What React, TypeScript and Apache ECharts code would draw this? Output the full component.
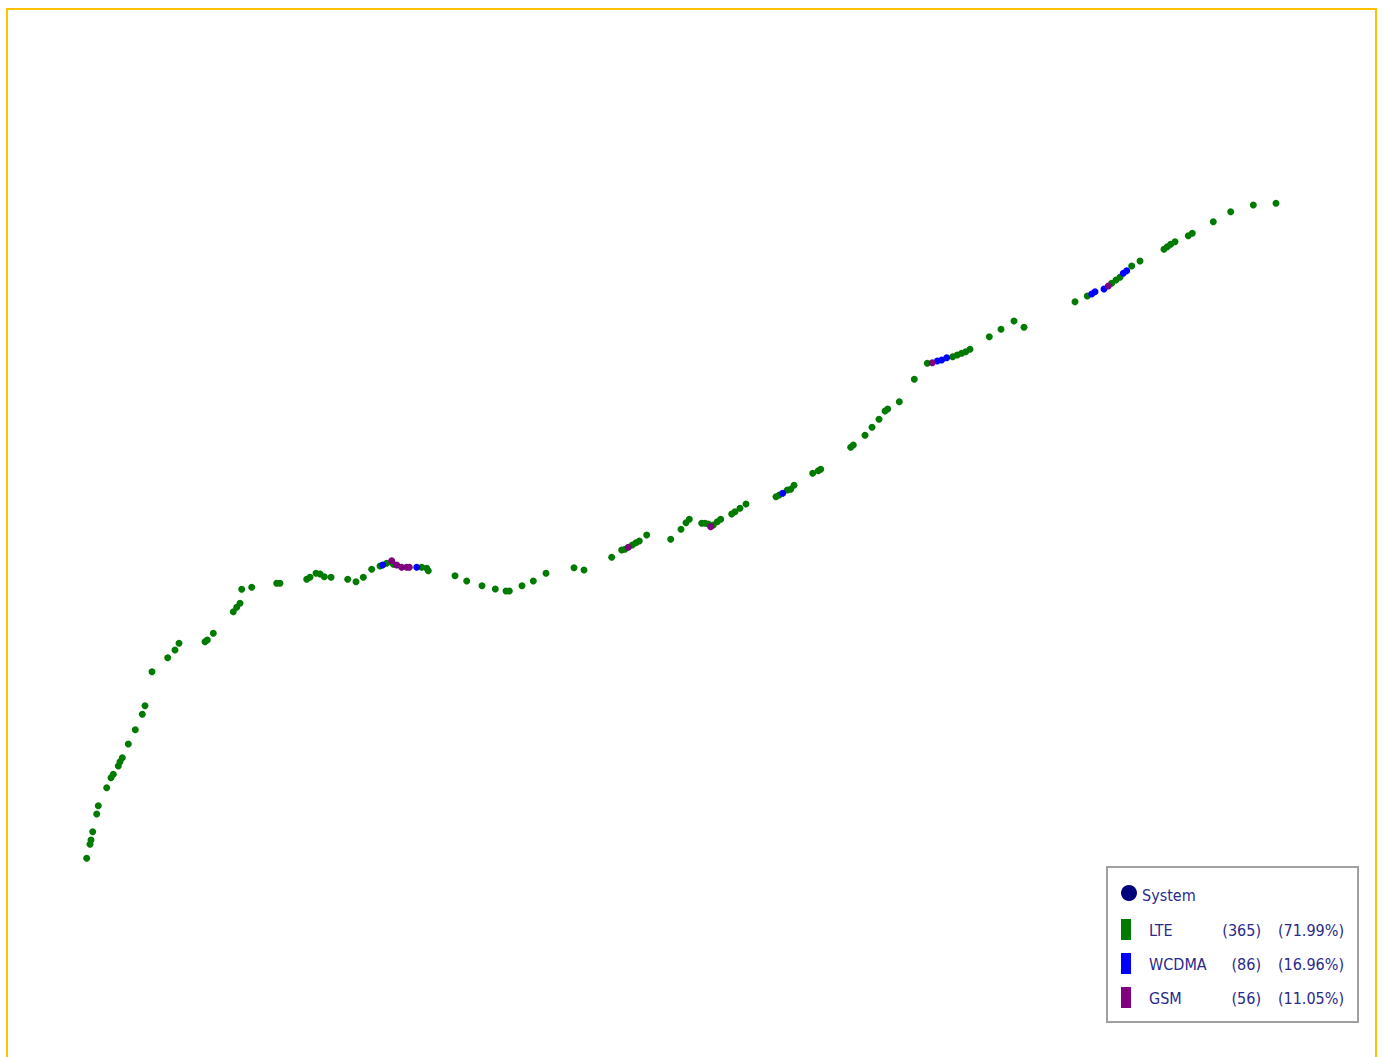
import React, { useEffect, useRef } from "react";
import * as echarts from "echarts";

// Drive-test track: screen-plane coordinates and serving system per sample
const trackX = [
  86.7, 90, 91, 92.7, 96.7, 98.3, 106.7, 111, 113.3, 118.3, 120, 122.3, 128.3, 135.3, 142.3, 145,
  152, 167.7, 175, 179, 205, 207.3, 213.3, 233.3, 236.7, 240, 241.7, 251.7, 276.7, 280, 306.7, 310,
  316, 320, 324.3, 331, 347.7, 356, 363.3, 371.7, 380, 382.7, 386.7, 391.7, 393.3, 396.7, 401.7, 406.7,
  409.3, 416.7, 421.7, 426.7, 428.3, 455, 466.7, 482, 495.3, 506, 509.3, 522, 533.3, 546, 574, 584,
  611.7, 621.7, 625, 628.3, 632.3, 636, 639.3, 646.7, 670.7, 681, 686, 689.3, 701.7, 705, 708.3, 710.7,
  713.3, 717.3, 720.7, 731.7, 735, 740, 746, 776, 779.3, 782.7, 787.3, 790.7, 794, 812.7, 818.3, 820.7,
  850.7, 853.3, 865, 872, 879, 885, 887.7, 899.3, 914.3, 927.3, 932.3, 937.3, 941.7, 946.7, 952.7, 957.3,
  961.7, 965.7, 970, 989.3, 1001, 1014, 1024, 1075, 1087.3, 1091.7, 1095, 1104, 1108.3, 1111.7, 1116, 1120,
  1123.3, 1126.7, 1131.7, 1140, 1164, 1167.3, 1170.7, 1175, 1188.3, 1192.3, 1213.3, 1230.7, 1253.3, 1276,
];
const trackY = [
  858.3, 844.3, 840, 831.7, 814, 805.7, 787.7, 777.7, 774.3, 766, 761.7, 757.7, 744, 729.7, 714.3, 705.7,
  671.7, 657.7, 650, 643.3, 641.7, 640, 633.3, 611.7, 607.3, 603.3, 589.3, 587.3, 583.3, 583.3, 579.3, 577.3,
  573.3, 574, 576.7, 577.3, 579.3, 581.7, 577.3, 569.3, 566, 565, 563.3, 560.7, 564.3, 565, 567.3, 567.3,
  567.3, 567.3, 567.3, 568.3, 570.7, 575.7, 581, 585.7, 589, 591, 591, 585.7, 581, 573.3, 567.7, 570,
  557.3, 550, 549.3, 547.3, 545, 542.7, 541, 535, 539.3, 529.3, 522.7, 519.3, 523.3, 523.3, 524, 526.7,
  525, 521.7, 519.3, 514, 511.7, 508.3, 504, 496.7, 495, 493.3, 490, 489.3, 485.3, 473.3, 470.7, 469.3,
  447.3, 445, 435.3, 427.3, 419.3, 411, 409, 401.7, 379.3, 363.3, 362.7, 361, 360, 357.7, 356.7, 355,
  353.3, 351.7, 349.3, 336.7, 329.3, 321, 327.3, 301.7, 296, 294, 291.7, 289, 286, 283.3, 280, 277.3,
  273.3, 270.7, 266, 261, 249.3, 246.7, 244.3, 241.7, 235.7, 233.3, 221.7, 211.7, 205, 203.3,
];
const trackSystem = [
  "LTE", "LTE", "LTE", "LTE", "LTE", "LTE", "LTE", "LTE", "LTE", "LTE", "LTE", "LTE", "LTE", "LTE", "LTE", "LTE",
  "LTE", "LTE", "LTE", "LTE", "LTE", "LTE", "LTE", "LTE", "LTE", "LTE", "LTE", "LTE", "LTE", "LTE", "LTE", "LTE",
  "LTE", "LTE", "LTE", "LTE", "LTE", "LTE", "LTE", "LTE", "LTE", "WCDMA", "LTE", "GSM", "LTE", "GSM", "GSM", "GSM",
  "GSM", "WCDMA", "LTE", "LTE", "LTE", "LTE", "LTE", "LTE", "LTE", "LTE", "LTE", "LTE", "LTE", "LTE", "LTE", "LTE",
  "LTE", "LTE", "LTE", "GSM", "LTE", "LTE", "LTE", "LTE", "LTE", "LTE", "LTE", "LTE", "LTE", "LTE", "LTE", "GSM",
  "LTE", "LTE", "LTE", "LTE", "LTE", "LTE", "LTE", "LTE", "LTE", "WCDMA", "LTE", "LTE", "LTE", "LTE", "LTE", "LTE",
  "LTE", "LTE", "LTE", "LTE", "LTE", "LTE", "LTE", "LTE", "LTE", "LTE", "GSM", "WCDMA", "WCDMA", "WCDMA", "LTE", "LTE",
  "LTE", "LTE", "LTE", "LTE", "LTE", "LTE", "LTE", "LTE", "LTE", "WCDMA", "WCDMA", "WCDMA", "GSM", "LTE", "LTE", "LTE",
  "WCDMA", "WCDMA", "LTE", "LTE", "LTE", "LTE", "LTE", "LTE", "LTE", "LTE", "LTE", "LTE", "LTE", "LTE",
];

// Legend content
const legendTitle = "System";
const systems = ["LTE", "WCDMA", "GSM"];
const systemCounts = ["(365)", "(86)", "(56)"];
const systemPercents = ["(71.99%)", "(16.96%)", "(11.05%)"];
const systemColors = ["#007a00", "#0000ff", "#800080"];

const FONT = "'DejaVu Sans Condensed', 'Liberation Sans Narrow', 'DejaVu Sans', sans-serif";
const TEXT_COLOR = "#2a2a8a";

export default function App() {
  const ref = useRef<HTMLDivElement>(null);
  useEffect(() => {
    if (!ref.current) return;
    const chart = echarts.init(ref.current, undefined, { renderer: "svg" });

    const series = systems.map((name, si) => ({
      name,
      type: "scatter",
      symbol: "circle",
      symbolSize: 7,
      itemStyle: { color: systemColors[si], opacity: 1 },
      data: trackX
        .map((x, i) => [x, trackY[i], trackSystem[i]])
        .filter((p) => p[2] === name)
        .map((p) => [p[0], p[1]]),
    }));

    const lx = 1107;
    const ly = 867;
    const legendChildren: any[] = [
      {
        type: "rect",
        shape: { x: lx, y: ly, width: 251, height: 155 },
        style: { fill: "#fff", stroke: "#a0a0a0", lineWidth: 2 },
      },
      {
        type: "circle",
        shape: { cx: 1129, cy: 893, r: 8 },
        style: { fill: "#00007a" },
      },
      {
        type: "text",
        x: 1142,
        y: 895,
        style: {
          text: legendTitle,
          font: `16px ${FONT}`,
          fill: TEXT_COLOR,
          verticalAlign: "middle",
        },
      },
    ];
    systems.forEach((name, i) => {
      const cy = 929 + i * 34;
      legendChildren.push(
        {
          type: "rect",
          shape: { x: 1121, y: cy - 10, width: 10, height: 21 },
          style: { fill: systemColors[i] },
        },
        {
          type: "text",
          x: 1149,
          y: cy + 1,
          style: { text: name, font: `16px ${FONT}`, fill: TEXT_COLOR, verticalAlign: "middle" },
        },
        {
          type: "text",
          x: 1261,
          y: cy + 1,
          style: {
            text: systemCounts[i],
            font: `16px ${FONT}`,
            fill: TEXT_COLOR,
            align: "right",
            verticalAlign: "middle",
          },
        },
        {
          type: "text",
          x: 1344,
          y: cy + 1,
          style: {
            text: systemPercents[i],
            font: `16px ${FONT}`,
            fill: TEXT_COLOR,
            align: "right",
            verticalAlign: "middle",
          },
        }
      );
    });

    chart.setOption({
      animation: false,
      backgroundColor: "#ffffff",
      grid: { left: 0, right: 0, top: 0, bottom: 0 },
      xAxis: { type: "value", min: 0, max: 1382, show: false },
      yAxis: { type: "value", min: 0, max: 1057, inverse: true, show: false },
      series,
      graphic: [
        {
          type: "rect",
          z: 100,
          shape: { x: 7, y: 9, width: 1369, height: 1070 },
          style: { fill: "none", stroke: "#ffc000", lineWidth: 2 },
        },
        { type: "group", z: 101, children: legendChildren },
      ],
    });
    return () => chart.dispose();
  }, []);
  return (
    <div
      ref={ref}
      style={{ position: "fixed", left: 0, top: 0, width: 1382, height: 1057 }}
    />
  );
}
